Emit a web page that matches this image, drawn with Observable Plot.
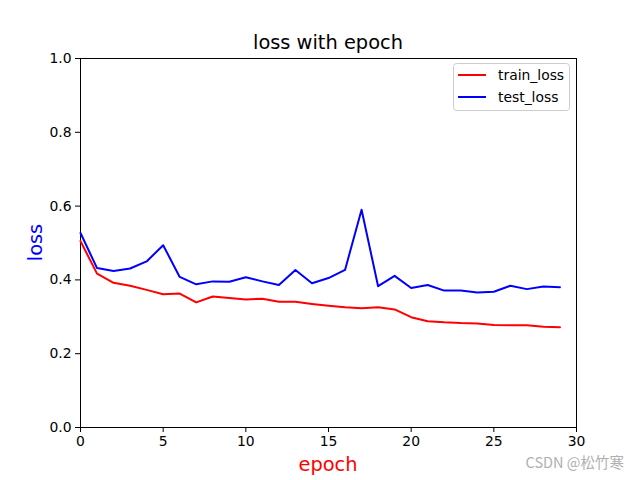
<!DOCTYPE html>
<html>
<head>
<meta charset="utf-8">
<script src="https://cdn.jsdelivr.net/npm/d3@7"></script>
<script src="https://cdn.jsdelivr.net/npm/@observablehq/plot@0.6"></script>
<style>
  html, body { margin: 0; padding: 0; background: #fff; }
  svg { font-family: "DejaVu Sans", sans-serif; }
</style>
</head>
<body>
<div id="chart"></div>
<script>
const title = "loss with epoch";
const xLabel = "epoch";
const yLabel = "loss";
const seriesNames = ["train_loss", "test_loss"];
const seriesColors = ["#ff0000", "#0000ff"];
const epochs = d3.range(0, 30);
const trainLoss = [0.505, 0.417, 0.392, 0.384, 0.373, 0.361, 0.363, 0.339, 0.355, 0.351,
                   0.347, 0.349, 0.341, 0.341, 0.335, 0.330, 0.326, 0.323, 0.326, 0.320,
                   0.299, 0.288, 0.285, 0.283, 0.282, 0.278, 0.277, 0.277, 0.273, 0.272];
const testLoss = [0.527, 0.432, 0.424, 0.431, 0.450, 0.494, 0.408, 0.388, 0.396, 0.395,
                  0.407, 0.396, 0.386, 0.427, 0.391, 0.405, 0.427, 0.590, 0.383, 0.411,
                  0.378, 0.386, 0.371, 0.371, 0.366, 0.368, 0.384, 0.375, 0.382, 0.380];
const xTicks = [0, 5, 10, 15, 20, 25, 30];
const yTicks = [0, 0.2, 0.4, 0.6, 0.8, 1.0];
const watermark = "CSDN @松竹寒";

const rows = [];
epochs.forEach((e, i) => {
  rows.push({epoch: e, loss: trainLoss[i], series: seriesNames[0]});
  rows.push({epoch: e, loss: testLoss[i], series: seriesNames[1]});
});

const W = 640, H = 480;
const mL = 80, mR = 64, mT = 58, mB = 53;

const plot = Plot.plot({
  width: W, height: H,
  marginLeft: mL, marginRight: mR, marginTop: mT, marginBottom: mB,
  style: {fontFamily: "DejaVu Sans, sans-serif", fontSize: "13.9px", color: "#000", background: "#fff"},
  x: {domain: [0, 30], label: null},
  y: {domain: [0, 1], label: null},
  color: {domain: seriesNames, range: seriesColors},
  marks: [
    Plot.frame({stroke: "#000", strokeWidth: 1}),
    Plot.line(rows, {x: "epoch", y: "loss", z: "series", stroke: "series", strokeWidth: 2}),
    Plot.axisX({ticks: xTicks, tickSize: 5, tickPadding: 4, fontSize: 13.9, stroke: "#000", tickFormat: d => d, label: null}),
    Plot.axisY({ticks: yTicks, tickSize: 5, tickPadding: 4, fontSize: 13.9, stroke: "#000", tickFormat: d3.format(".1f"), label: null})
  ]
});

const svg = d3.select(plot);
function addText(x, y, txt, size, color, anchor, extra) {
  const t = svg.append("text").attr("x", x).attr("y", y).text(txt)
    .style("font-size", size + "px").style("fill", color).style("text-anchor", anchor)
    .style("font-family", "DejaVu Sans, sans-serif");
  if (extra) extra(t);
  return t;
}
addText(mL + (W - mL - mR) / 2, 49, title, 19.4, "#000", "middle");
addText(mL + (W - mL - mR) / 2, 471, xLabel, 19.4, "#ff0000", "middle");
addText(0, 0, yLabel, 19.4, "#0000ff", "middle",
  t => t.attr("transform", `translate(41.5,${mT + (H - mT - mB) / 2}) rotate(-90)`));

// legend
const lg = svg.append("g");
lg.append("rect").attr("x", 453.5).attr("y", 63.5).attr("width", 116).attr("height", 47)
  .attr("rx", 3).attr("fill", "#fff").attr("fill-opacity", 0.8).attr("stroke", "#cccccc");
seriesNames.forEach((name, i) => {
  const y = 75 + i * 22;
  lg.append("line").attr("x1", 458).attr("x2", 486).attr("y1", y).attr("y2", y)
    .attr("stroke", seriesColors[i]).attr("stroke-width", 2);
  addText(498, y + 5, name, 13.9, "#000", "start");
});

addText(624, 468, watermark, 14.5, "#b0b0b0", "end",
  t => t.style("font-family", "Noto Sans CJK SC, DejaVu Sans, sans-serif"));

document.getElementById("chart").appendChild(plot);
</script>
</body>
</html>
